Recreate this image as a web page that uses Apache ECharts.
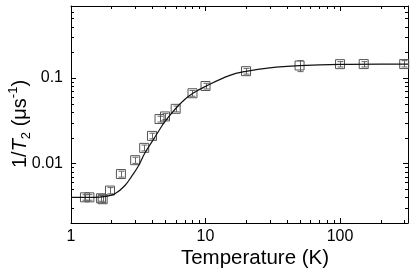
<!DOCTYPE html>
<html><head><meta charset="utf-8">
<script src="https://cdn.jsdelivr.net/npm/echarts@6/dist/echarts.min.js"></script>
<style>html,body{margin:0;padding:0;background:#fff}#c{width:415px;height:274px}</style>
</head><body><div id="c"></div>
<script>
// measured points
const temperature = [1.27, 1.37, 1.67, 1.72, 1.95, 2.35, 3.0, 3.5, 4.0, 4.55, 5.0, 6.0, 8.0, 10, 20, 50, 100, 150, 300];
const rate        = [0.0040, 0.0040, 0.0039, 0.0038, 0.0048, 0.0075, 0.0109, 0.0152, 0.021, 0.0331, 0.0355, 0.0436, 0.0664, 0.0807, 0.1205, 0.1405, 0.1456, 0.146, 0.146];
const rateLow     = [0.0037, 0.0037, 0.0036, 0.0035, 0.0044, 0.0069, 0.0100, 0.0140, 0.0194, 0.0305, 0.0327, 0.0402, 0.0612, 0.0745, 0.1112, 0.1190, 0.1350, 0.1350, 0.1350];
const rateHigh    = [0.0043, 0.0043, 0.0042, 0.0041, 0.0052, 0.0081, 0.0118, 0.0164, 0.0226, 0.0357, 0.0383, 0.0470, 0.0716, 0.0869, 0.1298, 0.1600, 0.1560, 0.1560, 0.1600];
// fitted curve
const fitT    = [1, 1.5, 1.8, 2.12, 2.52, 2.83, 3.17, 3.55, 4.09, 4.6, 5.0, 6.0, 7.0, 8.0, 10, 15, 20, 30, 50, 100, 200, 320];
const fitRate = [0.0040, 0.0040, 0.0041, 0.0044, 0.0055, 0.0071, 0.0093, 0.0133, 0.019, 0.0255, 0.031, 0.044, 0.056, 0.066, 0.080, 0.107, 0.120, 0.132, 0.140, 0.145, 0.146, 0.146];
// axes
const xTickValues = [1, 10, 100];
const xTickLabels = ['1', '10', '100'];
const yTickValues = [0.01, 0.1];
const yTickLabels = ['0.01', '0.1'];
const xMinorTicks = [2,3,4,5,6,7,8,9,20,30,40,50,60,70,80,90,200,300];
const yMinorTicks = [0.003,0.004,0.005,0.006,0.007,0.008,0.009,0.02,0.03,0.04,0.05,0.06,0.07,0.08,0.09,0.2,0.3,0.4,0.5,0.6];

const FONT = 'Liberation Sans, Arial, Helvetica, sans-serif';
function labelFor(vals, labs){
  return function(v){
    for (let i=0;i<vals.length;i++){ if (Math.abs(Math.log10(v)-Math.log10(vals[i]))<1e-6) return labs[i]; }
    return '';
  };
}
const axisLine = {show:true, onZero:false, lineStyle:{color:'#000', width:1}};
const axisTick = {show:true, inside:true, length:5, lineStyle:{color:'#000', width:1}};

const chart = echarts.init(document.getElementById('c'), null, {renderer:'canvas'});
chart.setOption({
  animation:false,
  backgroundColor:'#fff',
  grid:{left:71, right:7, top:6, bottom:51, containLabel:false, outerBoundsMode:'none'},
  xAxis:[{
    type:'log', logBase:10, min:1, max:320, position:'bottom',
    axisLine, axisTick, splitLine:{show:false}, minorTick:{show:false},
    axisLabel:{formatter:labelFor(xTickValues,xTickLabels), fontSize:16, color:'#000', fontFamily:FONT, margin:6, showMinLabel:true, showMaxLabel:true},
    name:'Temperature (K)', nameLocation:'middle', nameGap:25, nameMoveOverlap:false,
    nameTextStyle:{fontSize:20.5, color:'#000', fontFamily:FONT, padding:[0,0,0,31]}
  },{
    type:'log', logBase:10, min:1, max:320, position:'top',
    axisLine, axisTick, splitLine:{show:false}, axisLabel:{show:false}
  }],
  yAxis:[{
    type:'log', logBase:10, min:0.002, max:0.7, position:'left',
    axisLine, axisTick, splitLine:{show:false},
    axisLabel:{formatter:labelFor(yTickValues,yTickLabels), fontSize:16, color:'#000', fontFamily:FONT, margin:8},
    name:'1/{i|T}{sub|2} (μs{sup|-1})', nameLocation:'middle', nameGap:38, nameRotate:90, nameMoveOverlap:false,
    nameTextStyle:{fontSize:20, color:'#000', fontFamily:FONT, padding:[0,19,0,0], lineHeight:26,
      rich:{
        i:{fontSize:20, fontStyle:'italic', fontFamily:FONT, color:'#000'},
        sub:{fontSize:13, fontFamily:FONT, color:'#000', verticalAlign:'bottom', lineHeight:14},
        sup:{fontSize:13, fontFamily:FONT, color:'#000', verticalAlign:'top', lineHeight:14}
      }}
  },{
    type:'log', logBase:10, min:0.002, max:0.7, position:'right',
    axisLine, axisTick, splitLine:{show:false}, axisLabel:{show:false}
  }],
  series:[
    {
      type:'custom', name:'xminor', xAxisIndex:0, yAxisIndex:0, silent:true, clip:false,
      data: xMinorTicks.map(v=>[v, 0.01]),
      renderItem(params, api){
        const cs = params.coordSys;
        const px = Math.round(api.coord([api.value(0), 0.01])[0]) + 0.5;
        const st = {stroke:'#000', lineWidth:1};
        return {type:'group', children:[
          {type:'line', shape:{x1:px, y1:cs.y+cs.height, x2:px, y2:cs.y+cs.height-3}, style:st},
          {type:'line', shape:{x1:px, y1:cs.y, x2:px, y2:cs.y+3}, style:st}
        ]};
      }
    },
    {
      type:'custom', name:'yminor', xAxisIndex:0, yAxisIndex:0, silent:true, clip:false,
      data: yMinorTicks.map(v=>[2, v]),
      renderItem(params, api){
        const cs = params.coordSys;
        const py = Math.round(api.coord([2, api.value(1)])[1]) + 0.5;
        const st = {stroke:'#000', lineWidth:1};
        return {type:'group', children:[
          {type:'line', shape:{x1:cs.x, y1:py, x2:cs.x+3, y2:py}, style:st},
          {type:'line', shape:{x1:cs.x+cs.width, y1:py, x2:cs.x+cs.width-3, y2:py}, style:st}
        ]};
      }
    },
    {
      type:'custom', name:'errors', xAxisIndex:0, yAxisIndex:0, silent:true,
      data: temperature.map((t,i)=>[t, rateLow[i], rateHigh[i]]),
      renderItem(params, api){
        const lo = api.coord([api.value(0), api.value(1)]);
        const hi = api.coord([api.value(0), api.value(2)]);
        const x = Math.round(lo[0]) + 0.5;
        const st = {stroke:'#666', lineWidth:1};
        return {type:'group', children:[
          {type:'line', shape:{x1:x, y1:lo[1], x2:x, y2:hi[1]}, style:st},
          {type:'line', shape:{x1:x-3, y1:lo[1], x2:x+3, y2:lo[1]}, style:st},
          {type:'line', shape:{x1:x-3, y1:hi[1], x2:x+3, y2:hi[1]}, style:st}
        ]};
      }
    },
    {
      type:'scatter', name:'data', xAxisIndex:0, yAxisIndex:0,
      data: temperature.map((t,i)=>[t, rate[i]]),
      symbol:'rect', symbolSize:9,
      itemStyle:{color:'rgba(255,255,255,0)', borderColor:'#555', borderWidth:1, opacity:1}
    },
    {
      type:'line', name:'fit', xAxisIndex:0, yAxisIndex:0,
      data: fitT.map((t,i)=>[t, fitRate[i]]),
      smooth:0.4, symbol:'none',
      lineStyle:{color:'#111', width:1.2}
    }
  ]
});
</script></body></html>
